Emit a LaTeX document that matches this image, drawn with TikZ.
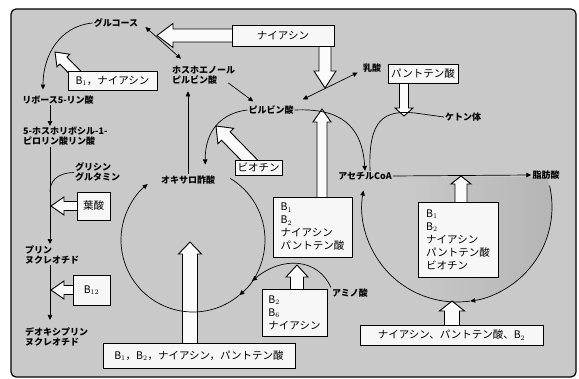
\documentclass[tikz,border=0pt]{standalone}
\usepackage{fontspec}
\setmainfont{Noto Sans CJK JP}
\usepackage{tikz}
\usetikzlibrary{calc,arrows.meta}
\pgfdeclarelayer{back}
\pgfsetlayers{back,main}
\definecolor{scangray}{gray}{0.79}

\newcommand{\hollowarr}[5]{%
  \coordinate (ha) at (#1); \coordinate (hb) at (#2);
  \coordinate (hc) at ($(hb)!#5pt!(ha)$);
  \filldraw[harr] ($(ha)!#3pt!90:(hb)$) -- ($(hc)!#3pt!90:(hb)$) -- ($(hc)!#4pt!90:(hb)$) -- (hb)
    -- ($(hc)!#4pt!-90:(hb)$) -- ($(hc)!#3pt!-90:(hb)$) -- ($(ha)!#3pt!-90:(hb)$) -- cycle;}

\begin{document}
\begin{tikzpicture}[x=1pt,y=-1pt,
  lbl/.style={font=\fontsize{9}{10}\selectfont\bfseries,inner sep=1pt,align=left},
  cbox/.style={draw,line width=0.9pt,fill=gray!6,font=\fontsize{10.5}{13}\selectfont,inner sep=3pt},
  arr/.style={line width=0.7pt,-{Triangle[length=5pt,width=4.5pt]}},
  arrb/.style={line width=0.7pt,{Triangle[length=5pt,width=4.5pt]}-{Triangle[length=5pt,width=4.5pt]}},
  harr/.style={line width=0.9pt,fill=gray!3,line join=miter}]
\useasboundingbox (0,0) rectangle (579,379);

\node[lbl] (glu) at (116,23) {グルコース};
\node[cbox,minimum width=89pt,minimum height=19pt] (b1n) at (112.5,81) {B$_1$，ナイアシン};
\node[lbl] (rib) at (58,100) {リボース5-リン酸};
\node[lbl,anchor=west] (prpp) at (22,136.5) {5-ホスホリボシル-1-\\ピロリン酸リン酸};
\node[lbl,anchor=west] (gly) at (74,172.5) {グリシン\\グルタミン};
\node[cbox,minimum width=33pt,minimum height=28pt] (fol) at (93.5,206) {葉酸};
\node[lbl,anchor=west] (pur) at (24,254.5) {プリン\\ヌクレオチド};
\node[cbox,minimum width=37pt,minimum height=30pt] (b12) at (91.5,290) {B$_{12}$};
\node[lbl,anchor=west] (dpur) at (24,336.5) {デオキシプリン\\ヌクレオチド};

\node[cbox,minimum width=102pt,minimum height=21pt] (nia) at (283,35.5) {ナイアシン};
\node[lbl,anchor=west] (pep) at (171,75) {ホスホエノール\\ピルビン酸};
\node[lbl] (pyr) at (271,110) {ピルビン酸};
\node[lbl] (lac) at (372,68) {乳酸};
\node[cbox,minimum width=70pt,minimum height=19pt] (pan) at (423,73.5) {パントテン酸};
\node[lbl] (ket) at (463,117) {ケトン体};
\node[cbox,minimum width=47pt,minimum height=15pt,inner sep=1pt] (bio) at (258.5,167.5) {ビオチン};
\node[lbl] (oxa) at (188,180) {オキサロ酢酸};
\node[lbl] (aco) at (365,176) {アセチルCoA};
\node[lbl] (fat) at (546,175) {脂肪酸};
\node[cbox,align=left,minimum width=79pt,minimum height=60pt] (mid) at (312.5,227) {B$_1$\\B$_2$\\ナイアシン\\パントテン酸};
\node[cbox,align=left,minimum width=80pt,minimum height=75pt] (rbx) at (458,239.5) {B$_1$\\B$_2$\\ナイアシン\\パントテン酸\\ビオチン};
\node[lbl] (ami) at (350,293) {アミノ酸};
\node[cbox,align=left,minimum width=65pt,minimum height=47pt] (low) at (294.5,312.5) {B$_2$\\B$_6$\\ナイアシン};
\node[cbox,minimum width=192pt,minimum height=25pt] (bot) at (199,355.5) {B$_1$，B$_2$，ナイアシン，パントテン酸};
\node[cbox,minimum width=183pt,minimum height=20pt] (brt) at (451.5,335) {ナイアシン、パントテン酸、B$_2$};

\coordinate (lx) at (50,0);
\coordinate (lc) at (193,240);
\coordinate (bc) at (457,207);
\coordinate (pN) at (325,88);
\coordinate (pM) at (322,109);
\coordinate (pP) at (404,116);
\coordinate (pR) at (461,176);
\coordinate (pL) at (297,265);
\coordinate (pB) at (190,242);
\coordinate (pBR) at (452,301);

\draw[arr] (glu.west) .. controls (60,26) and (43,55) .. ($(rib.north)+(-15,-5)$);
\draw[arrb] ($(glu.east)+(6,4)$) -- ($(pep.north west)+(10,-6)$);
\draw[arr] (rib.south -| lx) -- (prpp.north -| lx);
\draw[arr] (prpp.south -| lx) -- (pur.north -| lx);
\draw[line width=0.7pt] (gly.west) .. controls (56,173) and (50,182) .. (lx |- fol.north);
\draw[arr] (pur.south -| lx) -- ($(dpur.north -| lx)+(0,-6)$);
\draw[arr] (oxa.north) -- ($(oxa.north |- pep.south)+(0,6)$);
\draw[arr] ($(pep.east)+(-8,8)$) -- ($(pyr.north west)+(6,-3)$);
\draw[arrb] ($(pyr.north east)+(8,-5)$) -- ($(lac.south west)+(-4,-1)$);
\draw[arr] (pyr.east) .. controls (340,108) and (362,125) .. (aco.north);
\draw[arr] (pyr.west) .. controls (222,113) and (205,130) .. ($(oxa.north east)+(-11,-10)$);
\draw[line width=0.7pt] ($(aco.north)+(5,0)$) .. controls (368,118) and (385,110) .. (415,113) -- (ket.west);
\draw[arr] (aco.east) -- (fat.west);
\draw[arr] (bc) ++(-13:95) arc[start angle=-13,end angle=82,radius=95];
\draw[arr] (bc) ++(82:95) arc[start angle=82,end angle=190,radius=95];
\draw[arr] (lc) ++(-59:72) arc[start angle=-59,end angle=50,radius=72];
\draw[arr] (lc) ++(50:72) arc[start angle=50,end angle=231,radius=72];
\draw[arr] (ami.north west) .. controls (318,258) and (282,256) .. (252,281);

\begin{pgfonlayer}{back}
\fill[white] (0,0) rectangle (579,379);
\filldraw[fill=scangray,line width=1.2pt,rounded corners=5pt] (11,9) rectangle (576,377);
\begin{scope}
\clip (bc) circle[radius=95];
\shade[left color=scangray,right color=gray!58] (400,178) rectangle (555,305);
\end{scope}
\hollowarr{nia.center}{157,35.5}{6.5}{12}{16}
\hollowarr{pN |- nia.center}{pN}{6}{11}{17}
\hollowarr{$(b1n.north west)+(12,6)$}{55,52}{5}{9}{12}
\hollowarr{$(bio.center)+(-2,0)$}{216,126}{6}{11}{14}
\hollowarr{pM |- mid.center}{pM}{5}{9}{13}
\hollowarr{pP |- pan.center}{pP}{4.5}{9}{8}
\hollowarr{pR |- rbx.center}{pR}{6}{10}{8}
\hollowarr{pL |- low.center}{pL}{6.5}{11}{12}
\hollowarr{pB |- bot.center}{pB}{7.5}{11.5}{12}
\hollowarr{pBR |- brt.center}{pBR}{7.5}{12.5}{10}
\hollowarr{fol.center}{51,206}{4.5}{9}{13}
\hollowarr{b12.center}{51,290}{4.5}{9}{13}
\end{pgfonlayer}
\end{tikzpicture}
\end{document}
